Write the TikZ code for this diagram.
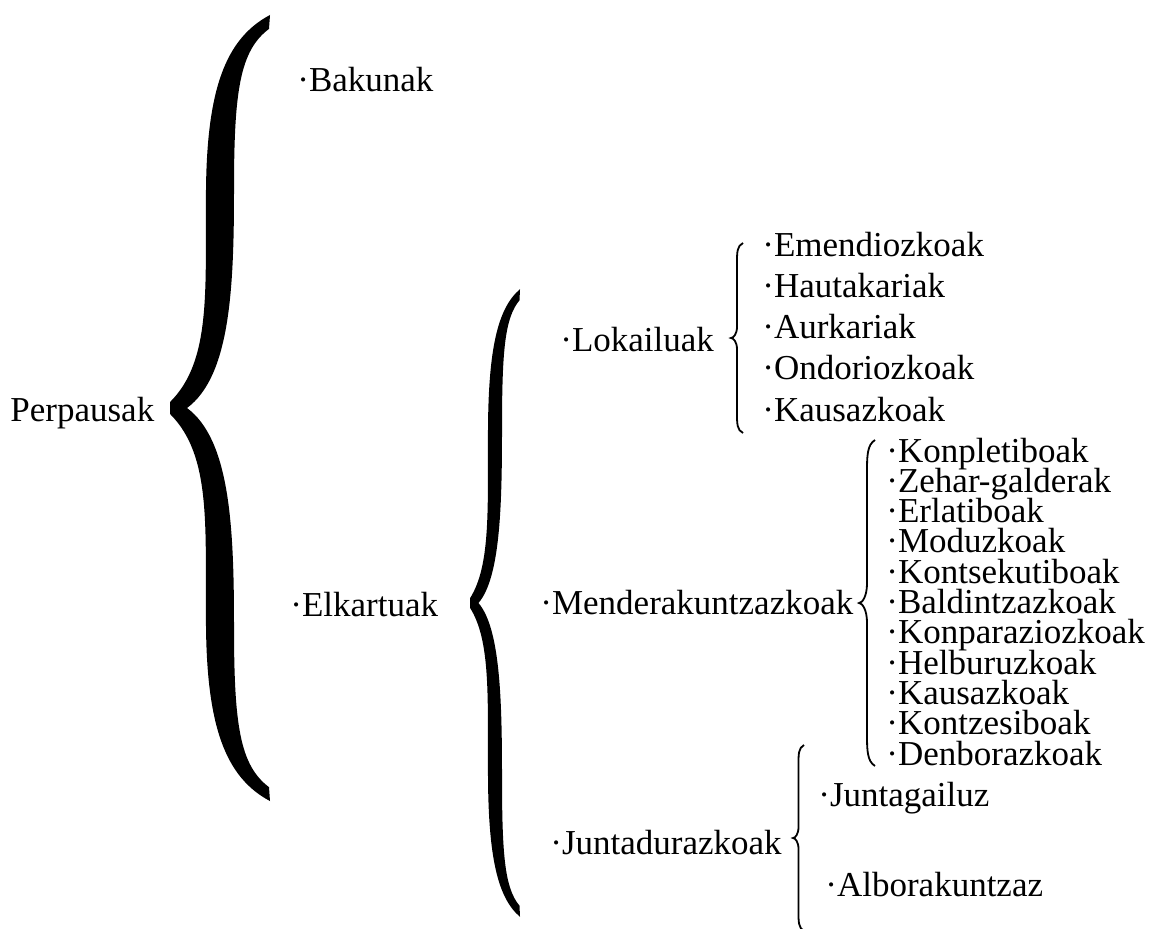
\documentclass[tikz,border=0pt]{standalone}
\usepackage{fontspec}
\setmainfont{Liberation Serif}
\usepackage{tikz}

%% llave gruesa: punta, ancho, media altura
\newcommand{\llave}[3]{%
\fill[shift={(#1)}, xscale=#2, yscale=#3]
 (1,-0.99) .. controls (0.55,-0.93) and (0.37,-0.8) .. (0.36,-0.55)
 .. controls (0.35,-0.3) and (0.42,-0.12) .. (0,-0.015)
 -- (0,0.015)
 .. controls (0.42,0.12) and (0.35,0.3) .. (0.36,0.55)
 .. controls (0.37,0.8) and (0.55,0.93) .. (1,0.99)
 -- (0.99,0.955)
 .. controls (0.7,0.9) and (0.64,0.8) .. (0.64,0.55)
 .. controls (0.64,0.3) and (0.6,0.08) .. (0.17,0)
 .. controls (0.6,-0.08) and (0.64,-0.3) .. (0.64,-0.55)
 .. controls (0.64,-0.8) and (0.7,-0.9) .. (0.99,-0.955) -- cycle;}

%% llave fina: punta, ancho, media altura
\newcommand{\llavefina}[3]{%
\draw[line width=0.9pt, shift={(#1)}, xscale=#2, yscale=#3]
 (1,-1) .. controls (0.5,-0.97) and (0.5,-0.9) .. (0.5,-0.8)
 -- (0.5,-0.12) .. controls (0.5,-0.04) and (0.2,0) .. (0,0)
 .. controls (0.2,0) and (0.5,0.04) .. (0.5,0.12)
 -- (0.5,0.8) .. controls (0.5,0.9) and (0.5,0.97) .. (1,1);}

\tikzset{rotulo/.style={anchor=base west, inner sep=0pt,
  font=\fontsize{17.5}{20}\selectfont}}

\begin{document}
\begin{tikzpicture}[x=0.5pt, y=-0.5pt]
\useasboundingbox (0,0) rectangle (1149,928);

%% primer nivel
\node[rotulo] (perp) at (10,421) {Perpausak};
\coordinate (puntaPerp) at (170,408);
\llave{puntaPerp}{100}{397}
\node[rotulo] (bak) at (297,91) {·Bakunak};
\node[rotulo] (elk) at (290,616) {·Elkartuak};

%% segundo nivel
\coordinate (puntaElk) at (470,603);
\llave{puntaElk}{50}{317}
\node[rotulo] (lok) at (560,351) {·Lokailuak};
\node[rotulo] (mend) at (540,614) {·Menderakuntzazkoak};
\node[rotulo] (junt) at (550,854) {·Juntadurazkoak};

%% Lokailuak
\coordinate (puntaLok) at (731,338);
\llavefina{puntaLok}{12}{95}
\foreach \nom [count=\i] in {Emendiozkoak,Hautakariak,Aurkariak,Ondoriozkoak,Kausazkoak}{
\node[rotulo] (lok\i) at (762,{256+41.3*(\i-1)}) {·\nom};
}

%% Menderakuntzazkoak
\coordinate (puntaMend) at (859,603);
\llavefina{puntaMend}{16}{163}
\foreach \nom [count=\i] in {Konpletiboak,Zehar-galderak,Erlatiboak,Moduzkoak,Kontsekutiboak,Baldintzazkoak,Konparaziozkoak,Helburuzkoak,Kausazkoak,Kontzesiboak,Denborazkoak}{
\node[rotulo] (mend\i) at (886,{462+30.3*(\i-1)}) {·\nom};
}

%% Juntadurazkoak
\coordinate (puntaJunt) at (793,838);
\llavefina{puntaJunt}{11}{93}
\node[rotulo] (junt1) at (818,806) {·Juntagailuz};
\node[rotulo] (junt2) at (825,896) {·Alborakuntzaz};
\end{tikzpicture}
\end{document}
